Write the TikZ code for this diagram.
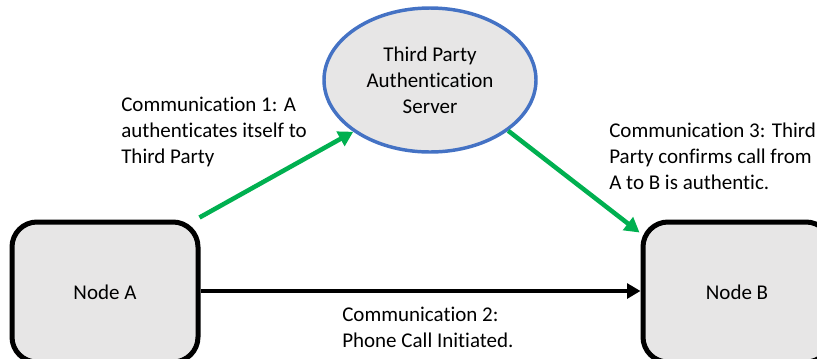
\documentclass[tikz,border=0pt]{standalone}
\usepackage{fontspec}
\setmainfont{Carlito}[Ligatures={NoCommon}]
\usetikzlibrary{shapes.geometric,arrows.meta}
\definecolor{boxgray}{HTML}{E7E6E6}
\definecolor{srvblue}{HTML}{4472C4}
\definecolor{okgreen}{HTML}{00B050}
\begin{document}
\begin{tikzpicture}[x=0.75pt,y=-0.75pt,
  txt/.style={font=\fontsize{15.75}{19.5}\selectfont},
  nodebox/.style={draw=black, line width=3.75pt, fill=boxgray, rounded corners=18.75pt,
    minimum width=139.5pt, minimum height=105pt, txt, inner sep=0pt},
  server/.style={ellipse, draw=srvblue, line width=2.6pt, fill=boxgray,
    minimum width=159pt, minimum height=108pt, txt, align=center, inner sep=0pt},
  greenarrow/.style={draw=okgreen, line width=3.4pt, -{Triangle[length=11pt,width=12pt]}},
  blackarrow/.style={draw=black, line width=3pt, -{Triangle[length=10pt,width=11pt]}},
  commlabel/.style={txt, align=left, anchor=north west, inner sep=0pt}]
\useasboundingbox (0,0) rectangle (817,358);
\clip (0,0) rectangle (817,358);
\node[nodebox] (A) at (105,292) {Node A};
\node[nodebox, minimum width=141pt] (B) at (737,292) {Node B};
\node[server] (S) at (430,80) {Third Party\\Authentication\\Server};
\draw[greenarrow] ([shift={(-1,-2)}]A.north east) -- (S.214.7);
\draw[greenarrow] (S.327) -- ([shift={(-1,13)}]B.north west);
\draw[blackarrow] ([yshift=0.75pt]A.east) -- ([yshift=0.75pt]B.west);
\node[commlabel] (L1) at (121,97) {Communication 1: A\\authenticates itself to\\Third Party};
\node[commlabel] (L3) at (609,123) {Communication 3: Third\\Party confirms call from\\A to B is authentic.};
\node[commlabel] (L2) at (342,307) {Communication 2:\\Phone Call Initiated.};
\end{tikzpicture}
\end{document}
